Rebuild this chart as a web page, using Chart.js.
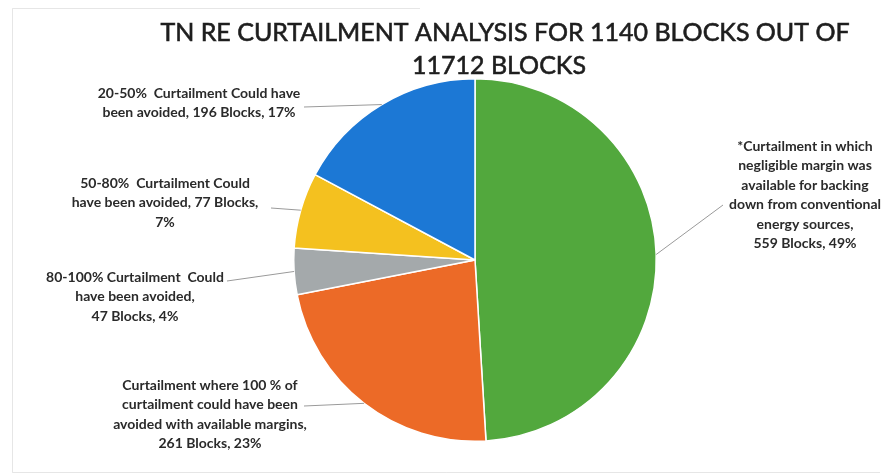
<!DOCTYPE html>
<html>
<head>
<meta charset="utf-8">
<script src="https://cdn.jsdelivr.net/npm/chart.js@4.4.1/dist/chart.umd.min.js"></script>
<style>
    html, body { margin: 0; padding: 0; background: #ffffff; }
    #wrap { width: 888px; height: 476px; position: relative; }
</style>
</head>
<body>
<div id="wrap"><canvas id="curtailment-pie"></canvas></div>
<script>
// slice order: clockwise from 12 o'clock
var categories = [
    ['*Curtailment in which', 'negligible margin was', 'available for backing', 'down from conventional', 'energy sources,'],
    ['Curtailment where 100 % of', 'curtailment could have been', 'avoided with available margins,'],
    ['80-100% Curtailment  Could', 'have been avoided,'],
    ['50-80%  Curtailment Could', 'have been avoided,'],
    ['20-50%  Curtailment Could have', 'been avoided,']
];
var blocks = [559, 261, 47, 77, 196];
var percents = [49, 23, 4, 7, 17];
var sliceColors = ['#52a83d', '#ec6a27', '#a4a9ab', '#f4c11f', '#1c78d5'];

var titleLines = ['TN RE CURTAILMENT ANALYSIS FOR 1140 BLOCKS OUT OF', '11712 BLOCKS'];

// where each label block sits, and where its leader line starts
var labelBoxes = [
    { x: 805, y: 146, lead: [723, 205] },
    { x: 210, y: 385, lead: [304, 406] },
    { x: 135, y: 277, lead: [227, 281] },
    { x: 165, y: 183, lead: [271, 208] },
    { x: 199, y: 93,  lead: [304, 107] }
];

function labelText(i) {
    var lines = categories[i].slice();
    var tail = blocks[i] + ' Blocks, ' + percents[i] + '%';
    if (i === 3) {
        lines[1] = lines[1] + ' ' + blocks[i] + ' Blocks,';
        lines.push(percents[i] + '%');
    } else if (i === 4) {
        lines[1] = lines[1] + ' ' + tail;
    } else {
        lines.push(tail);
    }
    return lines;
}

var calloutPlugin = {
    id: 'callouts',
    afterDraw: function (chart) {
        var ctx = chart.ctx;
        ctx.save();

        // faint page frame
        ctx.strokeStyle = 'rgba(200,200,200,0.45)';
        ctx.lineWidth = 1;
        ctx.beginPath();
        ctx.moveTo(420, 8.5);
        ctx.lineTo(12.5, 8.5);
        ctx.lineTo(12.5, 472.5);
        ctx.lineTo(880, 472.5);
        ctx.stroke();

        // title, regular weight thickened slightly
        ctx.fillStyle = '#1e1e1e';
        ctx.strokeStyle = '#1e1e1e';
        ctx.lineWidth = 0.6;
        ctx.textAlign = 'center';
        ctx.textBaseline = 'middle';
        ctx.font = '25px Lato, "Open Sans", sans-serif';
        ctx.fillText(titleLines[0], 505, 33);
        ctx.strokeText(titleLines[0], 505, 33);
        ctx.fillText(titleLines[1], 499, 66);
        ctx.strokeText(titleLines[1], 499, 66);

        var arcs = chart.getDatasetMeta(0).data;
        ctx.font = 'bold 14px Lato, "Open Sans", sans-serif';
        arcs.forEach(function (arc, i) {
            var p = arc.getProps(['x', 'y', 'startAngle', 'endAngle', 'outerRadius'], true);
            var mid = (p.startAngle + p.endAngle) / 2;
            var ex = p.x + Math.cos(mid) * p.outerRadius;
            var ey = p.y + Math.sin(mid) * p.outerRadius;
            var box = labelBoxes[i];

            ctx.strokeStyle = '#9a9a9a';
            ctx.lineWidth = 1;
            ctx.beginPath();
            ctx.moveTo(box.lead[0], box.lead[1]);
            ctx.lineTo(ex, ey);
            ctx.stroke();

            ctx.fillStyle = '#2a2a2a';
            labelText(i).forEach(function (t, k) {
                ctx.fillText(t, box.x, box.y + k * 19.5);
            });
        });
        ctx.restore();
    }
};

var ctx = document.getElementById('curtailment-pie').getContext('2d');
var chart = new Chart(ctx, {
    type: 'pie',
    data: {
        labels: categories,
        datasets: [{
            data: blocks,
            backgroundColor: sliceColors,
            borderColor: '#ffffff',
            borderWidth: 1.5
        }]
    },
    options: {
        responsive: true,
        maintainAspectRatio: false,
        animation: false,
        layout: {
            padding: { left: 293, right: 231, top: 78, bottom: 34 }
        },
        plugins: {
            legend: { display: false },
            tooltip: { enabled: false }
        }
    },
    plugins: [calloutPlugin]
});
</script>
</body>
</html>
